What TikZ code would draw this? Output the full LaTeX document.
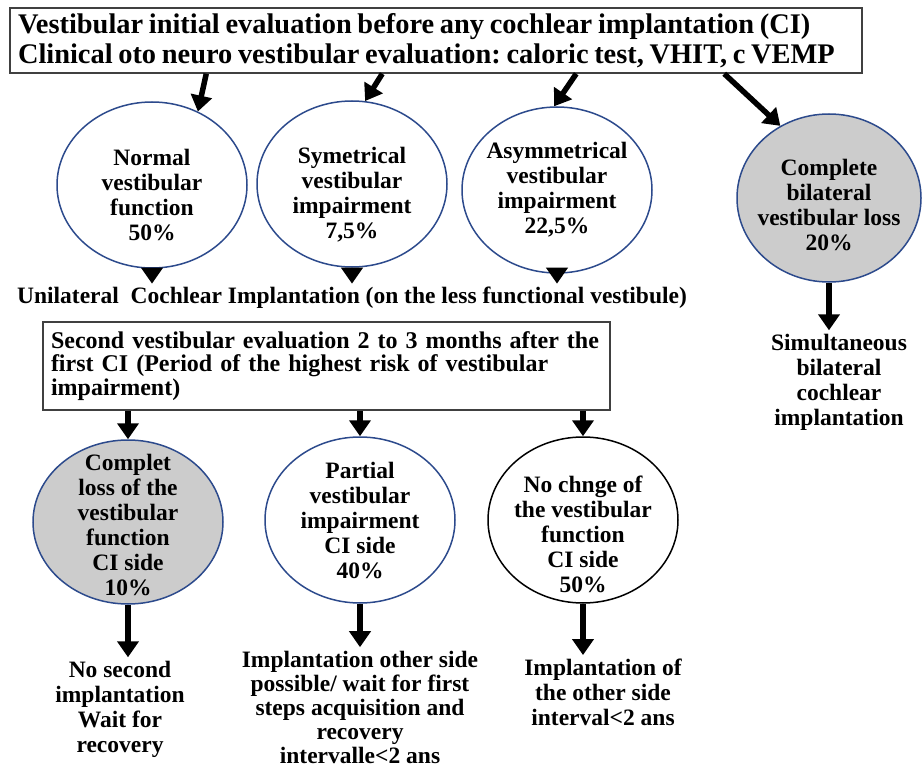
\documentclass[tikz,border=0pt]{standalone}
\usepackage{fontspec}
\setmainfont{Liberation Serif}
\usetikzlibrary{shapes,arrows,arrows.meta}
\usetikzlibrary{positioning}

\definecolor{ovalblue}{RGB}{44,74,140}
\newcommand{\dropby}[1]{\rule{0pt}{#1}}

\begin{document}
\begin{tikzpicture}[x=1pt,y=-1pt,>={Triangle[length=16pt,width=21pt]},
    every node/.style={font=\bfseries\fontsize{23.5}{25}\selectfont},
    oval/.style={ellipse,draw=ovalblue,line width=1.5pt,minimum width=190pt,minimum height=166pt,align=center,inner xsep=-15pt,inner ysep=-25pt},
    box/.style={rectangle,draw=black!75,line width=1.5pt,align=left,inner xsep=8pt},
    flow/.style={->,line width=5.5pt}]
    \useasboundingbox (0,0) rectangle (922,768);

    \node[box,text width=836pt,minimum height=65pt,font=\bfseries\fontsize{28.4}{30}\selectfont] (init) at (436,40.5)
      {\spaceskip=.2em\xspaceskip=.2em\relax Vestibular initial evaluation before any cochlear implantation (CI)\\Clinical oto neuro vestibular evaluation: caloric test, VHIT, c VEMP};

    \node[oval]                   (normal)    at (152,185) {\dropby{37pt}Normal\\vestibular\\function\\50\%};
    \node[oval]                   (symetric)  at (352,184) {\dropby{37pt}Symetrical\\vestibular\\impairment\\7,5\%};
    \node[oval]                   (asymetric) at (557,190) {Asymmetrical\\vestibular\\impairment\\22,5\%};
    \node[oval,fill=gray!40,minimum width=184pt,minimum height=168pt] (bilat) at (829,198) {\dropby{31pt}Complete\\bilateral\\vestibular loss\\20\%};

    \node (uni) at (352,298) {Unilateral\ \ Cochlear Implantation (on the less functional vestibule)};
    \node[align=center] (simul) at (839,382) {Simultaneous\\bilateral\\cochlear\\implantation};

    \node[box,text width=551pt,minimum height=88pt,font=\bfseries\fontsize{24}{23.5}\selectfont] (second) at (326.5,366)
      {Second vestibular evaluation 2 to 3 months after the\\first CI (Period of the highest risk of vestibular\\impairment)};

    \node[oval,fill=gray!40,minimum height=164pt] (loss) at (128,522) {\dropby{22pt}Complet\\loss of the\\vestibular\\function\\CI side\\10\%};
    \node[oval]                   (partial)   at (360,520) {Partial\\vestibular\\impairment\\CI side\\40\%};
    \node[oval,draw=black]        (nochange)  at (583,520) {\dropby{45pt}No chnge of\\the vestibular\\function\\CI side\\50\%};

    \node[align=center] (nosecond)  at (120,709) {No second\\implantation\\Wait for\\recovery};
    \node[align=center,font=\bfseries\fontsize{23.5}{24}\selectfont] (other) at (360,707) {Implantation other side\\possible/ wait for first\\steps acquisition and\\recovery\\intervalle<2 ans};
    \node[align=center] (otherside) at (603,692) {Implantation of\\the other side\\interval<2 ans};

    % first evaluation
    \draw[flow] ([xshift=197pt]init.south west) -- (normal.58);
    \draw[flow] ([xshift=373pt]init.south west) -- (symetric.81);
    \draw[flow] ([xshift=567pt]init.south west) -- (asymetric.92);
    \draw[flow] ([xshift=715pt]init.south west) -- (bilat.124);

    \draw[flow] (normal.south) -- (normal.south |- uni.north);
    \draw[flow] (symetric.south) -- (symetric.south |- uni.north);
    \draw[flow] (asymetric.south) -- (asymetric.south |- uni.north);
    \draw[flow] (bilat.south) -- (bilat.south |- simul.north);

    % second evaluation
    \draw[flow] (second.south -| loss) -- (loss.north);
    \draw[flow] (second.south -| partial) -- (partial.north);
    \draw[flow] (second.south -| nochange) -- (nochange.north);

    \draw[flow] (loss.south) -- (loss.south |- nosecond.north);
    \draw[flow] (partial.south) -- (partial.south |- other.north);
    \draw[flow] (nochange.south) -- (nochange.south |- otherside.north);
\end{tikzpicture}
\end{document}
